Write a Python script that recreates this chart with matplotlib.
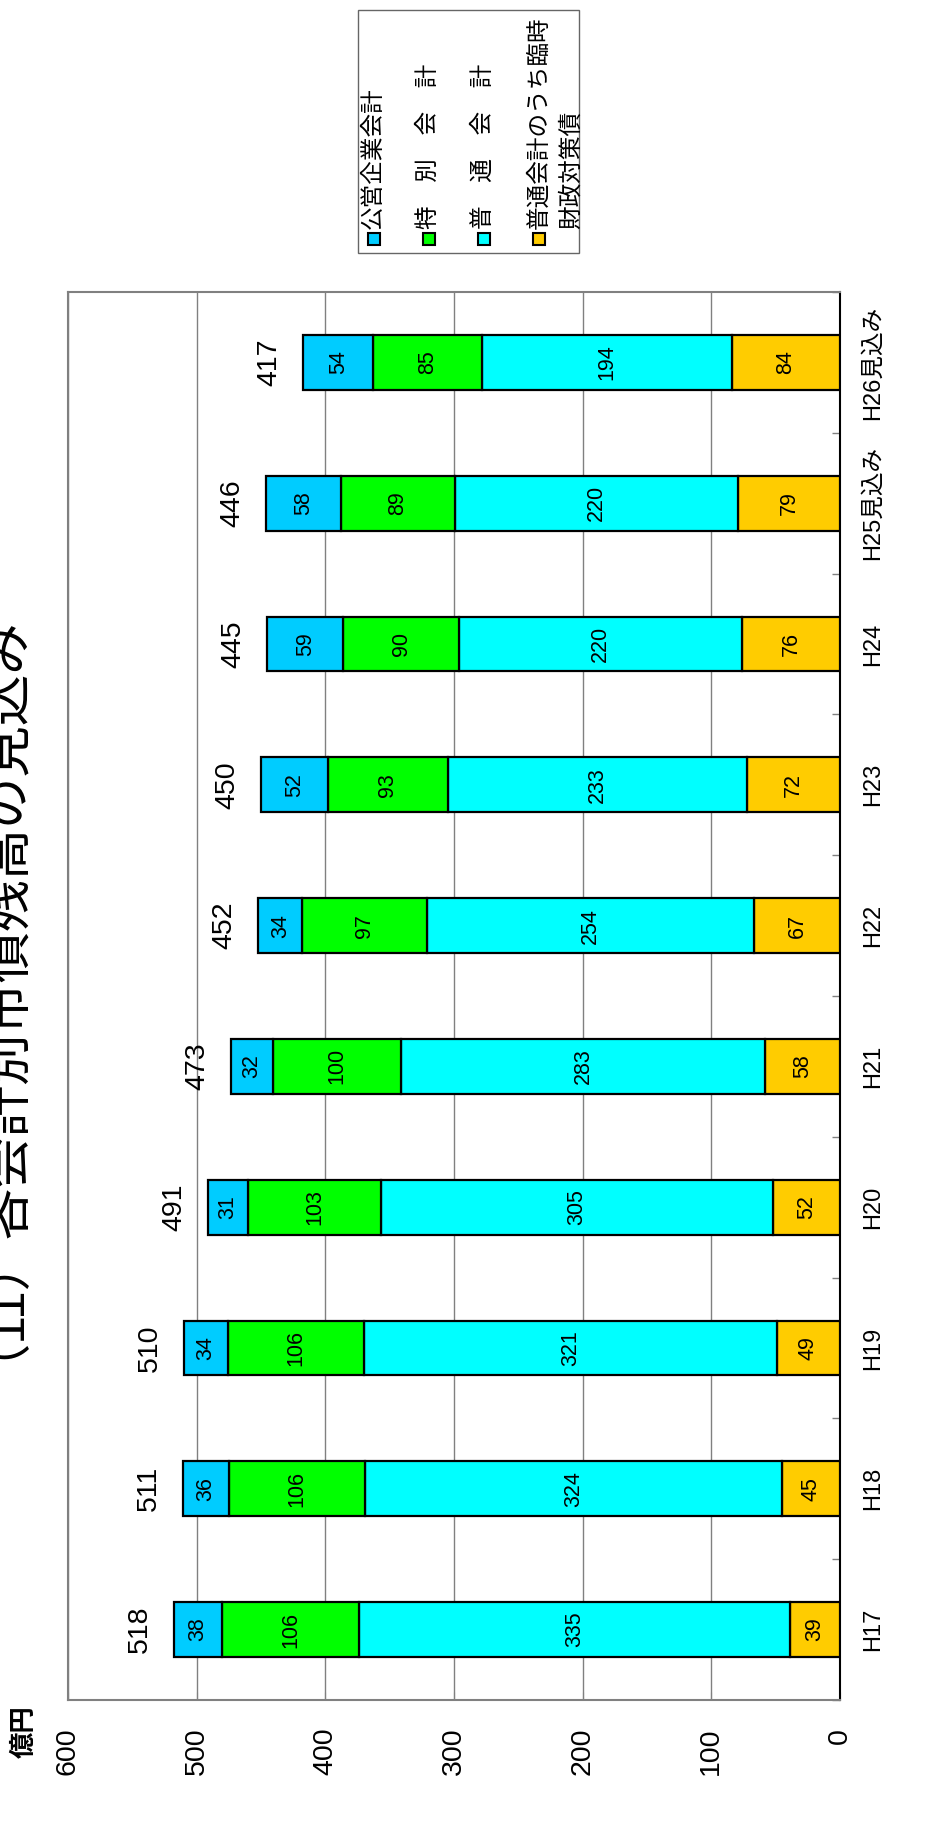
import matplotlib
matplotlib.use("Agg")
import matplotlib.pyplot as plt
import numpy as np
from matplotlib.patches import Rectangle

plt.rcParams["font.family"] = ["Liberation Sans", "Noto Sans CJK JP"]

# data, H17 (bottom) .. H26 (top)
years = ["H17", "H18", "H19", "H20", "H21", "H22", "H23", "H24", "H25見込み", "H26見込み"]
rinji = [39, 45, 49, 52, 58, 67, 72, 76, 79, 84]          # 普通会計のうち臨時財政対策債
futsu = [335, 324, 321, 305, 283, 254, 233, 220, 220, 194]  # 普通会計
tokubetsu = [106, 106, 106, 103, 100, 97, 93, 90, 89, 85]   # 特別会計
kouei = [38, 36, 34, 31, 32, 34, 52, 59, 58, 54]            # 公営企業会計
totals = [518, 511, 510, 491, 473, 452, 450, 445, 446, 417]

series = [rinji, futsu, tokubetsu, kouei]
colors = ["#FFCC00", "#00FFFF", "#00FF00", "#00CCFF"]
legend_labels = ["公営企業会計", "特　別　会　計", "普　通　会　計", "普通会計のうち臨時"]
legend_colors = ["#00CCFF", "#00FF00", "#00FFFF", "#FFCC00"]

W, H = 947, 1827
fig = plt.figure(figsize=(W / 100, H / 100), dpi=100)


def fx(px):
    return px / W


def fy(py):
    return 1 - py / H


ax = fig.add_axes([fx(68), fy(1700), fx(840) - fx(68), fy(292) - fy(1700)])

ypos = np.arange(len(years))
left = np.zeros(len(years))
for vals, col in zip(series, colors):
    vals = np.asarray(vals)
    ax.barh(ypos, vals, left=left, height=0.39, color=col, edgecolor="black",
            linewidth=1.6, zorder=3)
    for y, l, v in zip(ypos, left, vals):
        ax.text(l + v / 2, y, str(v), rotation=90, ha="center", va="center",
                fontsize=15.5, zorder=4)
    left = left + vals

for y, t in zip(ypos, totals):
    ax.annotate(str(t), (t, y), xytext=(-15, 0), textcoords="offset points",
                rotation=90, ha="right", va="center", fontsize=20.5)

ax.set_xlim(600, 0)
ax.set_ylim(-0.5, len(years) - 0.5)
ax.set_xticks(np.arange(0, 601, 100))
ax.tick_params(axis="x", direction="in", length=6, color="#808080", pad=20,
               labelsize=20.5, labelrotation=90)
ax.grid(axis="x", color="#808080", linewidth=1, zorder=0)

ax.yaxis.tick_right()
ax.set_yticks(ypos)
ax.set_yticklabels(years)
ax.tick_params(axis="y", which="major", length=0, pad=16, labelsize=17,
               labelrotation=90)
ax.set_yticks(np.arange(-0.5, len(years), 1.0), minor=True)
ax.tick_params(axis="y", which="minor", direction="in", length=6,
               color="#808080", width=1)
for lab in ax.get_yticklabels():
    lab.set_verticalalignment("center")

for side in ["top", "left", "bottom"]:
    ax.spines[side].set_color("#808080")
    ax.spines[side].set_linewidth(1.5)
ax.spines["right"].set_color("black")
ax.spines["right"].set_linewidth(1.5)

# unit label
fig.text(fx(25), fy(1732), "億円", rotation=90, ha="center", va="center",
         fontsize=19, fontweight="bold")

# title (cut off at the left edge, as in the source)
fig.text(fx(-24), fy(973), "（11）各会計別市債残高の見込み", rotation=90,
         ha="center", va="center", fontsize=37)

# legend box
fig.add_artist(Rectangle((fx(358), fy(253)), fx(579) - fx(358), fy(10) - fy(253),
                         transform=fig.transFigure, facecolor="white",
                         edgecolor="#666666", linewidth=1))
for i, (lab, col) in enumerate(zip(legend_labels, legend_colors)):
    x = 374 + 55 * i
    fig.add_artist(Rectangle((fx(x - 6), fy(245)), fx(12), 12 / H,
                             transform=fig.transFigure, facecolor=col,
                             edgecolor="black", linewidth=1.5))
    fig.text(fx(x), fy(229), lab, rotation=90, ha="center", va="bottom",
             fontsize=17)
fig.text(fx(572), fy(229), "財政対策債", rotation=90, ha="center", va="bottom",
         fontsize=17)

fig.savefig("out.png", dpi=100)
